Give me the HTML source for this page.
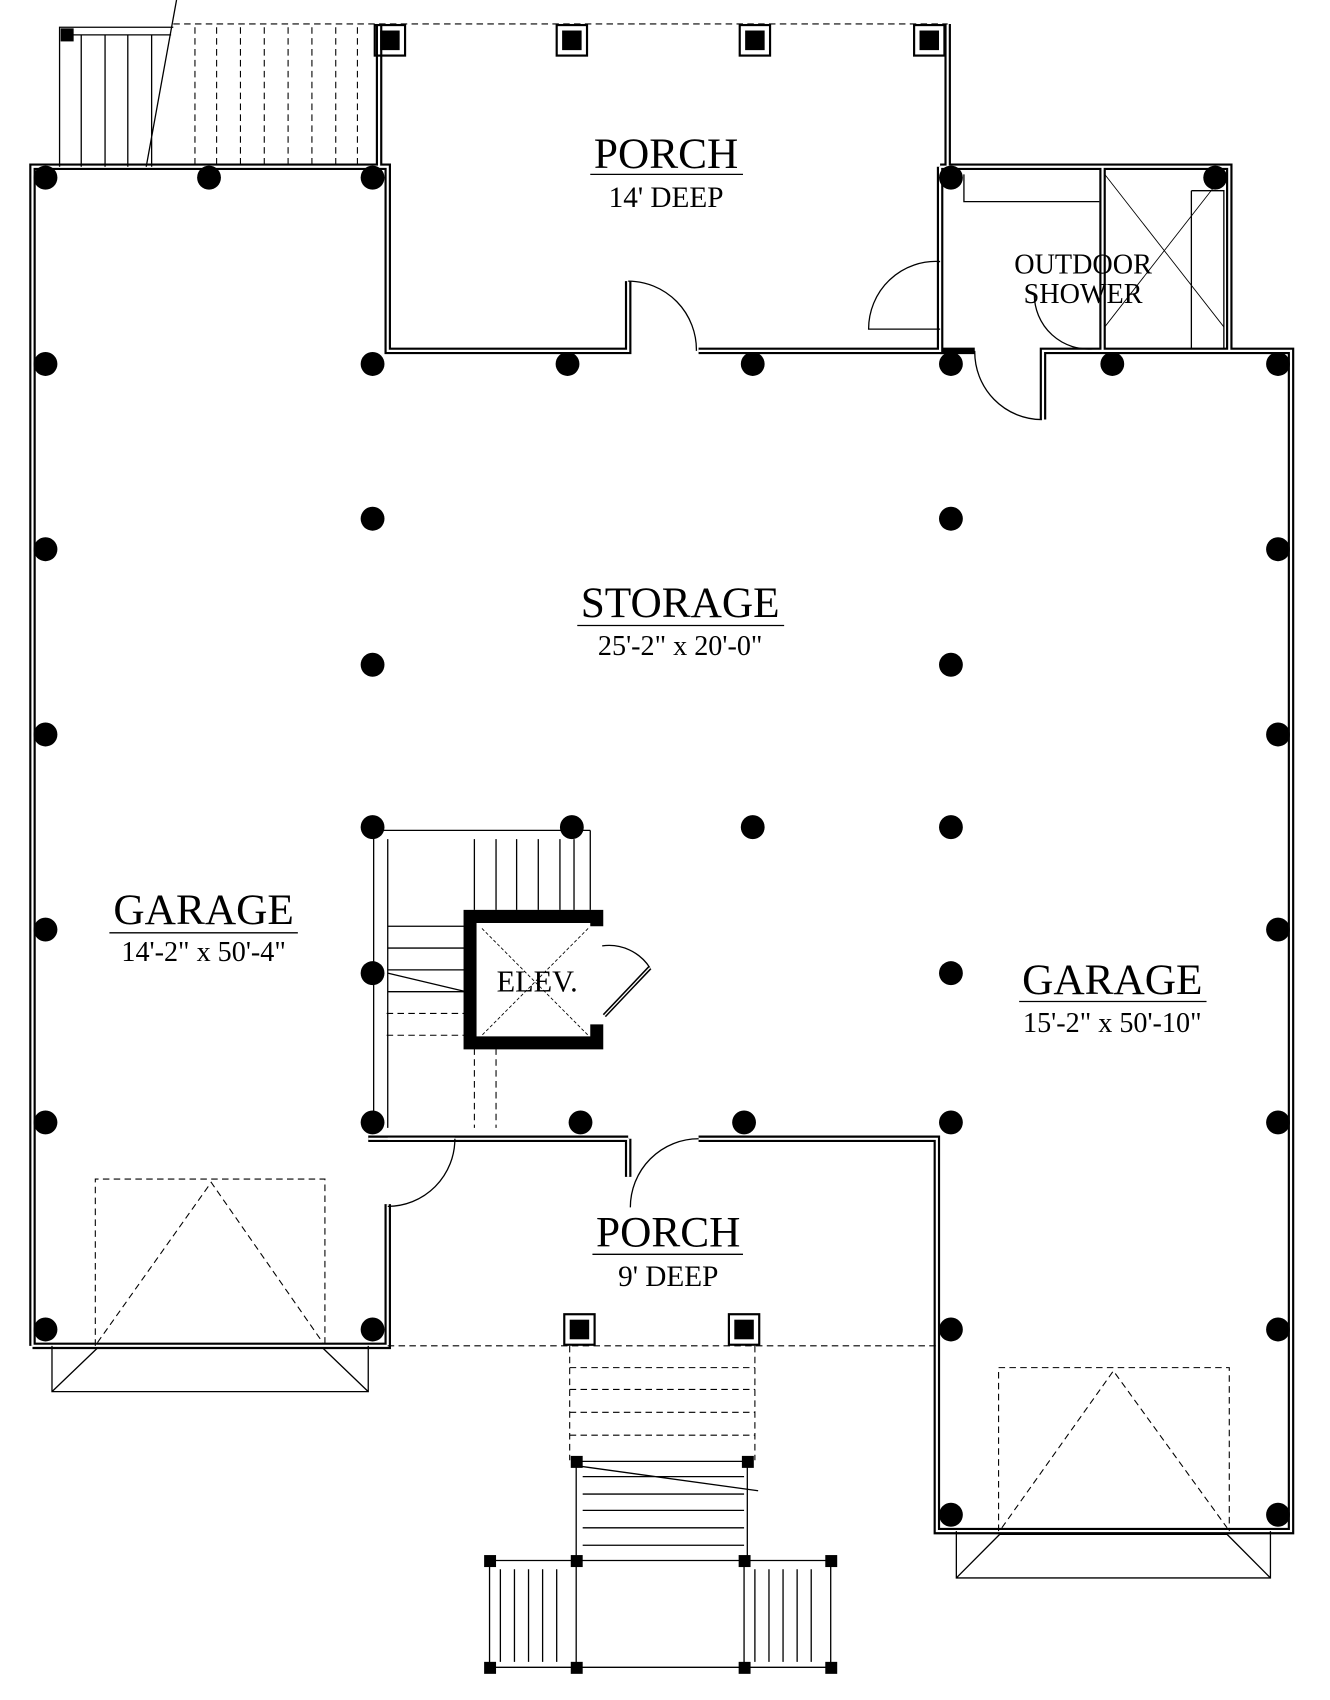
<!DOCTYPE html>
<html><head><style>html,body{margin:0;padding:0;background:#fff}svg{display:block}</style></head><body>
<svg width="1330" height="1700" viewBox="0 0 1228 1560" preserveAspectRatio="none" xmlns="http://www.w3.org/2000/svg" font-family="Liberation Serif, serif">
<rect width="1228" height="1560" fill="#fff"/>
<g fill="none" stroke="#000">
<g stroke-width="6">
<path d="M30 1235 V153 H358 V322 H580 V258 M645 322 H868 V153 M580 322 V258"/>
<path d="M350 22 V153 M875 22 V153"/>
<path d="M868 153 H1135 V322 M1018 153 V322"/>
<path d="M963 385 V322 H1192 V1405 H865 V1045 H645 M580 1045 V1080 M580 1045 H340"/>
<path d="M30 1235 H358 V1105 M358 1045 H420"/>
<path d="M868 322 H900"/>
</g>
<g stroke="#fff" stroke-width="2">
<path d="M30 1235 V153 H358 V322 H580 V258 M645 322 H868 V153 M580 322 V258"/>
<path d="M350 22 V153 M875 22 V153"/>
<path d="M868 153 H1135 V322 M1018 153 V322"/>
<path d="M963 385 V322 H1192 V1405 H865 V1045 H645 M580 1045 V1080 M580 1045 H340"/>
<path d="M30 1235 H358 V1105 M358 1045 H420"/>
</g>
<g stroke-width="1.2">
<path d="M580 258 A63 63 0 0 1 643 322"/>
<path d="M645 1045 A63 63 0 0 0 582 1108"/>
<path d="M420 1045 A62 62 0 0 1 358 1107"/>
<path d="M868 240 A62 62 0 0 0 802 302 H868"/>
<path d="M900 322 A62 62 0 0 0 962 385"/>
<path d="M955 270 A50 50 0 0 0 1010 320"/>
<path d="M890 160 V185 H1015"/>
<path d="M1100 175 H1130 V320 M1100 175 V320"/>
<path d="M1020 160 L1130 300 M1130 160 L1020 300" stroke-width="0.8"/>
</g>
<g stroke-width="1" stroke-dasharray="6 4">
<path d="M350 22 H875"/>
<path d="M358 1235 H865"/>
<path d="M88 1235 V1082 H300 V1235 M90 1232 L195 1085 L298 1232"/>
<path d="M922 1405 V1255 H1135 V1405 M925 1402 L1028 1258 L1133 1402"/>
<path d="M526 1235 V1340 M697 1235 V1340 M526 1255 H697 M526 1275 H697 M526 1296 H697 M526 1317 H697"/>
<path d="M160 22 H350"/>
<path d="M180 25 V153 M200 25 V153 M222 25 V153 M244 25 V153 M266 25 V153 M288 25 V153 M310 25 V153 M330 25 V153"/>
<path d="M357 930 H430 M357 950 H430 M438 962 V1035 M458 962 V1035"/>
</g>
<g stroke-width="1.2">
<path d="M55 153 V25 H160 M60 32 H158 M75 32 V153 M97 32 V153 M118 32 V153 M140 32 V153 M163 0 L135 153"/>
<path d="M48 1235 V1277 H340 V1235 M48 1277 L90 1237 M340 1277 L298 1237 M90 1237 H298"/>
<path d="M883 1405 V1448 H1173 V1405 M883 1448 L923 1408 M1173 1448 L1133 1408 M923 1408 H1133"/>
<path d="M345 762 H545 M345 1040 V762 M358 770 V1035 M545 762 V835 M438 770 V835 M458 770 V835 M477 770 V835 M497 770 V835 M517 770 V835 M530 770 V835"/>
<path d="M358 850 H430 M358 870 H430 M358 890 H430 M358 910 H430 M358 893 L430 910"/>
<path d="M532 1341 H690 V1432 M532 1341 V1432 M538 1355 H687 M538 1371 H687 M538 1386 H687 M538 1402 H687 M538 1418 H687 M532 1345 L700 1368"/>
<path d="M452 1432 H767 V1530 H452 Z M532 1432 V1530 M687 1432 V1530"/>
<path d="M462 1440 V1525 M475 1440 V1525 M488 1440 V1525 M501 1440 V1525 M514 1440 V1525 M697 1440 V1525 M710 1440 V1525 M723 1440 V1525 M736 1440 V1525 M749 1440 V1525"/>
</g>
<path d="M551 850 V841 H434 V957 H551 V940" stroke-width="12"/>
<path d="M445 852 L543 950 M543 852 L445 950" stroke-width="0.8" stroke-dasharray="3 2"/>
<path d="M556 868 A45 45 0 0 1 600 888" stroke-width="1.2"/>
<path d="M600 888 L558 932" stroke-width="4"/>
<path d="M600 888 L558 932" stroke="#fff" stroke-width="1.2"/>
<g stroke-width="1.2">
<path d="M545 160 H686 M533 574 H724 M101 856 H275 M941 919 H1114 M547 1151 H686"/>
</g>
</g>
<g fill="#000">
<circle cx="42" cy="163" r="11"/><circle cx="193" cy="163" r="11"/><circle cx="344" cy="163" r="11"/>
<circle cx="42" cy="334" r="11"/><circle cx="344" cy="334" r="11"/><circle cx="524" cy="334" r="11"/><circle cx="695" cy="334" r="11"/><circle cx="878" cy="334" r="11"/>
<circle cx="878" cy="163" r="11"/><circle cx="1122" cy="163" r="11"/><circle cx="1027" cy="334" r="11"/><circle cx="1180" cy="334" r="11"/>
<circle cx="344" cy="476" r="11"/><circle cx="878" cy="476" r="11"/><circle cx="42" cy="504" r="11"/><circle cx="1180" cy="504" r="11"/>
<circle cx="344" cy="610" r="11"/><circle cx="878" cy="610" r="11"/><circle cx="42" cy="674" r="11"/><circle cx="1180" cy="674" r="11"/>
<circle cx="344" cy="759" r="11"/><circle cx="528" cy="759" r="11"/><circle cx="695" cy="759" r="11"/><circle cx="878" cy="759" r="11"/>
<circle cx="42" cy="853" r="11"/><circle cx="1180" cy="853" r="11"/><circle cx="344" cy="893" r="11"/><circle cx="878" cy="893" r="11"/>
<circle cx="42" cy="1030" r="11"/><circle cx="344" cy="1030" r="11"/><circle cx="536" cy="1030" r="11"/><circle cx="687" cy="1030" r="11"/><circle cx="878" cy="1030" r="11"/><circle cx="1180" cy="1030" r="11"/>
<circle cx="42" cy="1220" r="11"/><circle cx="344" cy="1220" r="11"/><circle cx="878" cy="1220" r="11"/><circle cx="1180" cy="1220" r="11"/>
<circle cx="878" cy="1390" r="11"/><circle cx="1180" cy="1390" r="11"/>
<g>
<rect x="346" y="23" width="28" height="28" fill="none" stroke="#000" stroke-width="2"/><rect x="351" y="28" width="18" height="18"/>
<rect x="514" y="23" width="28" height="28" fill="none" stroke="#000" stroke-width="2"/><rect x="519" y="28" width="18" height="18"/>
<rect x="683" y="23" width="28" height="28" fill="none" stroke="#000" stroke-width="2"/><rect x="688" y="28" width="18" height="18"/>
<rect x="844" y="23" width="28" height="28" fill="none" stroke="#000" stroke-width="2"/><rect x="849" y="28" width="18" height="18"/>
<rect x="521" y="1206" width="28" height="28" fill="none" stroke="#000" stroke-width="2"/><rect x="526" y="1211" width="18" height="18"/>
<rect x="673" y="1206" width="28" height="28" fill="none" stroke="#000" stroke-width="2"/><rect x="678" y="1211" width="18" height="18"/>
</g>
<rect x="56" y="26" width="12" height="12"/><rect x="527" y="1336" width="11" height="11"/><rect x="685" y="1336" width="11" height="11"/>
<rect x="447" y="1427" width="11" height="11"/><rect x="527" y="1427" width="11" height="11"/><rect x="682" y="1427" width="11" height="11"/><rect x="762" y="1427" width="11" height="11"/>
<rect x="447" y="1525" width="11" height="11"/><rect x="527" y="1525" width="11" height="11"/><rect x="682" y="1525" width="11" height="11"/><rect x="762" y="1525" width="11" height="11"/>
</g>
<g fill="#000" text-anchor="middle">
<text x="615" y="154" font-size="40">PORCH</text>
<text x="615" y="190" font-size="27">14' DEEP</text>
<text x="628" y="566" font-size="40">STORAGE</text>
<text x="628" y="601" font-size="26">25'-2" x 20'-0"</text>
<text x="188" y="848" font-size="40">GARAGE</text>
<text x="188" y="882" font-size="26">14'-2" x 50'-4"</text>
<text x="1027" y="912" font-size="40">GARAGE</text>
<text x="1027" y="947" font-size="26">15'-2" x 50'-10"</text>
<text x="617" y="1144" font-size="40">PORCH</text>
<text x="617" y="1180" font-size="27">9' DEEP</text>
<text x="1000" y="251" font-size="26">OUTDOOR</text>
<text x="1000" y="278" font-size="26">SHOWER</text>
<text x="496" y="910" font-size="28">ELEV.</text>
</g>
</svg>
</body></html>
